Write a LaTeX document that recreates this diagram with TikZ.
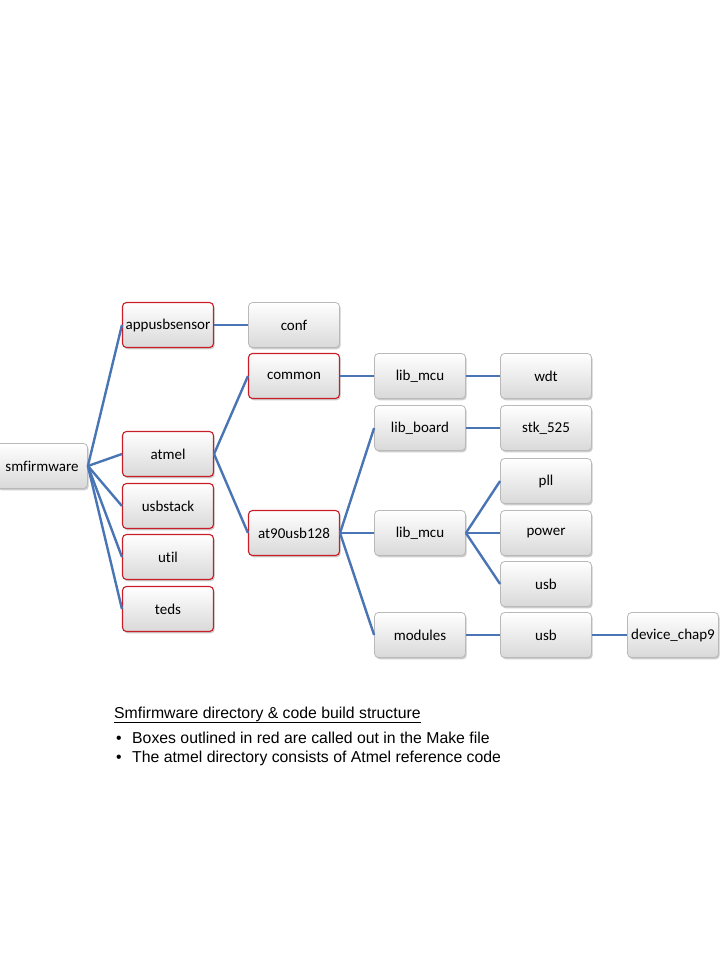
\documentclass[tikz,border=0pt]{standalone}
\usepackage{fontspec}
\setmainfont{Carlito}[Ligatures=NoCommon]
\newfontfamily\capfont{Liberation Sans}
\usetikzlibrary{shadows}

\definecolor{linkblue}{RGB}{74,117,181}
\definecolor{redline}{RGB}{200,30,40}

\tikzset{
  dirbox/.style={rounded corners=4pt, minimum width=91pt, minimum height=45pt,
    draw=gray!55, line width=0.8pt, top color=white, bottom color=gray!30,
    drop shadow={shadow xshift=1.2pt, shadow yshift=-1.8pt, opacity=0.4},
    font=\fontsize{15}{17}\selectfont, inner sep=1pt},
  makebox/.style={dirbox, draw=redline, line width=1.1pt},
  link/.style={draw=linkblue, line width=2.4pt},
  captext/.style={anchor=base west, inner sep=0pt, font=\capfont\fontsize{15.8}{18}\selectfont}
}

\begin{document}
\begin{tikzpicture}[x=1pt, y=-1pt]
  \useasboundingbox (0,0) rectangle (720,960);
  % column 1
  \node[dirbox] (smf) at (42,466) {smfirmware};
  % column 2
  \node[makebox] (app) at (168,325) {appusbsensor};
  \node[makebox] (atmel) at (168,454) {atmel};
  \node[makebox] (usbstack) at (168,506) {usbstack};
  \node[makebox] (util) at (168,557) {util};
  \node[makebox] (teds) at (168,609) {teds};
  % column 3
  \node[dirbox] (conf) at (294,325) {conf};
  \node[makebox] (common) at (294,376) {common};
  \node[makebox] (at90) at (294,533) {at90usb128};
  % column 4
  \node[dirbox] (mcua) at (420,376) {lib\_mcu};
  \node[dirbox] (board) at (420,428) {lib\_board};
  \node[dirbox] (mcub) at (420,533) {lib\_mcu};
  \node[dirbox] (modules) at (420,635) {modules};
  % column 5
  \node[dirbox] (wdt) at (546,376) {wdt};
  \node[dirbox] (stk) at (546,428) {stk\_525};
  \node[dirbox] (pll) at (546,481) {pll};
  \node[dirbox] (power) at (546,533) {power};
  \node[dirbox] (usba) at (546,584) {usb};
  \node[dirbox] (usbb) at (546,635) {usb};
  % column 6
  \node[dirbox] (chap9) at (673,635) {device\_chap9};

  % links
  \foreach \c in {app,atmel,usbstack,util,teds}
    \draw[link] (smf.east) -- (\c.west);
  \draw[link] (app.east) -- (conf.west);
  \draw[link] (atmel.east) -- (common.west);
  \draw[link] (atmel.east) -- (at90.west);
  \draw[link] (common.east) -- (mcua.west);
  \draw[link] (mcua.east) -- (wdt.west);
  \foreach \c in {board,mcub,modules}
    \draw[link] (at90.east) -- (\c.west);
  \draw[link] (board.east) -- (stk.west);
  \foreach \c in {pll,power,usba}
    \draw[link] (mcub.east) -- (\c.west);
  \draw[link] (modules.east) -- (usbb.west);
  \draw[link] (usbb.east) -- (chap9.west);

  % caption
  \node[captext] (title) at (114,718) {\underline{Smfirmware directory \& code build structure}};
  \node[captext] (dota) at (116,743) {\textbullet};
  \node[captext] (linea) at (132,743) {Boxes outlined in red are called out in the Make file};
  \node[captext] (dotb) at (116,762) {\textbullet};
  \node[captext] (lineb) at (132,762) {The atmel directory consists of Atmel reference code};
\end{tikzpicture}
\end{document}
